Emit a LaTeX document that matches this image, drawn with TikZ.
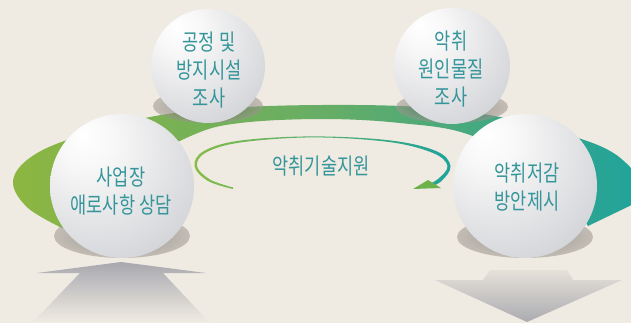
\documentclass[tikz,border=0pt]{standalone}
\usepackage{fontspec}
\newfontfamily\kr[FakeStretch=0.78]{Noto Sans CJK KR}
\definecolor{bg}{HTML}{EFEAE2}
\definecolor{bandL}{HTML}{8CB641}
\definecolor{bandM}{HTML}{66AD66}
\definecolor{bandR}{HTML}{1FA39C}
\definecolor{sphA}{HTML}{D4D5D9}
\definecolor{sphB}{HTML}{AFB1B7}
\definecolor{shadowIn}{HTML}{4F4A45}
\definecolor{shadowOut}{HTML}{9E9891}
\definecolor{txt}{HTML}{34959A}
\definecolor{arrG}{HTML}{86BC47}
\definecolor{arrT}{HTML}{1DA39B}
\definecolor{headG}{HTML}{6DB14A}
\definecolor{grayA}{HTML}{A8A8AE}
\definecolor{grayB}{HTML}{ABABB0}
\pgfdeclareradialshading{sphereshade}{\pgfpoint{-14bp}{18bp}}{color(0bp)=(white); color(10bp)=(white!97!black); color(38bp)=(sphA); color(60bp)=(sphB); color(85bp)=(sphB)}
\begin{document}
\begin{tikzpicture}[x=1pt,y=-1pt,
  ball/.style={circle, inner sep=0pt, outer sep=0pt, shading=sphereshade},
  lbl/.style={text=txt, align=center, font=\kr\fontsize{22.5}{28}\selectfont},
  shadowstyle/.style={inner color=shadowIn, outer color=shadowOut, opacity=0.55}]
\useasboundingbox (0,0) rectangle (631,323);
\clip (0,0) rectangle (631,323);
\fill[bg] (0,0) rectangle (631,323);
% band
\path[left color=bandL, right color=bandR, middle color=bandM]
  plot[smooth, tension=0.6] coordinates {(62,228) (28,208) (13,183) (27,160) (67,140) (150,117) (230,108) (322,105) (420,107) (500,117) (575,137) (615,154) (642,180)}
  -- plot[smooth, tension=0.6] coordinates {(642,200) (615,213) (588,226)}
  -- plot[smooth, tension=0.6] coordinates {(588,226) (545,175) (470,135) (400,123) (322,119) (240,123) (193,135) (130,170) (62,228)}
  -- cycle;
% shadows
\shade[shadowstyle] (208,106) ellipse (55 and 17);
\shade[shadowstyle] (122,236) ellipse (68 and 22);
\shade[shadowstyle] (452,107) ellipse (56 and 16);
\shade[shadowstyle] (525,237) ellipse (68 and 21);
% inner loop arrow
\path[left color=arrG, right color=arrT]
  plot[smooth, tension=0.6] coordinates {(233,189) (208,181) (194.5,166) (204,151) (240,140.6) (313,136.4) (390,140.4) (436,151) (450.5,166) (441,181.5) (428,187.5)}
  -- plot[smooth, tension=0.6] coordinates {(427,185) (438,179) (447.5,166) (433,153) (389,142) (313,137.4) (241,142.4) (206,152.5) (197,166) (210,179.5) (233,187.5)}
  -- cycle;
\fill[headG] (413,189) -- (428,180) -- (441,188) -- cycle;
\node[lbl] (c) at (321,166) {악취기술지원};
% spheres
\node[ball, minimum size=114pt] (s1) at (208,66) {};
\node[ball, minimum size=144pt] (s2) at (122,186) {};
\node[ball, minimum size=116pt] (s3) at (452,66) {};
\node[ball, minimum size=144pt] (s4) at (525,186) {};
\node[lbl] (t1) at (209,70) {공정 및\\방지시설\\조사};
\node[lbl] (t2) at (121,191) {사업장\\애로사항 상담};
\node[lbl] (t3) at (451,69) {악취\\원인물질\\조사};
\node[lbl] (t4) at (527,187) {악취저감\\방안제시};
% gray arrows
\path[top color=grayA, bottom color=bg] (121,262) -- (206,273) -- (163,273) -- (208,321) -- (34,321) -- (80,273) -- (37,273) -- cycle;
\path[top color=bg!96!black, bottom color=grayB] (490,270) -- (567,270) -- (573,280) -- (622,280) -- (527,322) -- (435,280) -- (483,280) -- cycle;
\end{tikzpicture}
\end{document}
